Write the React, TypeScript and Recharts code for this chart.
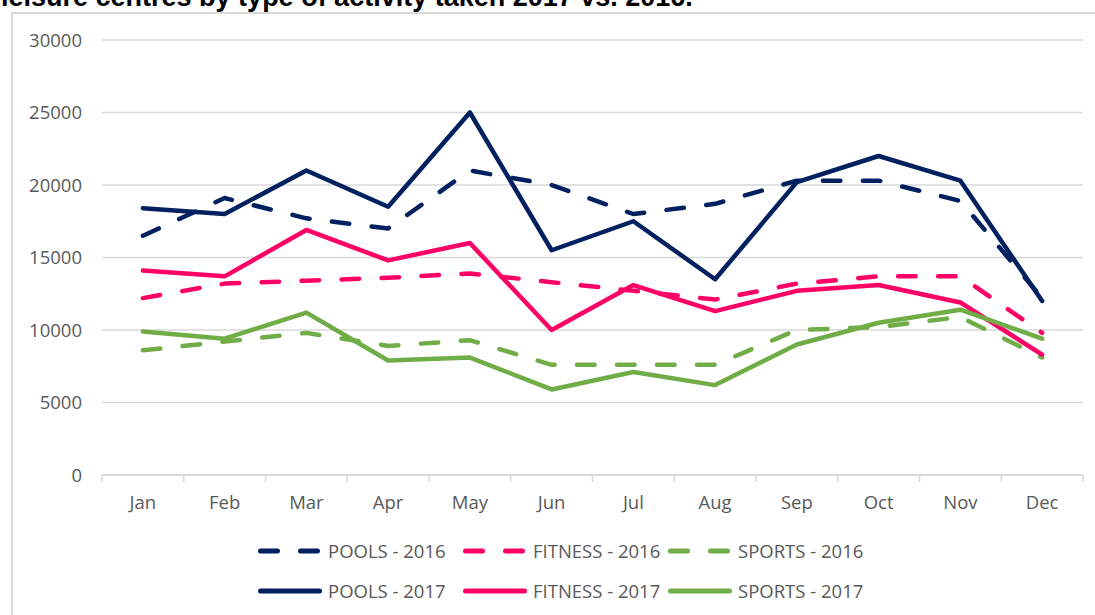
import * as React from 'react'
import { CartesianGrid, Legend, Line, LineChart, XAxis, YAxis } from 'recharts'

const months = ['Jan', 'Feb', 'Mar', 'Apr', 'May', 'Jun', 'Jul', 'Aug', 'Sep', 'Oct', 'Nov', 'Dec']

const pools2016 = [16500, 19100, 17700, 17000, 21000, 20000, 18000, 18700, 20300, 20300, 18900, 12200]
const fitness2016 = [12200, 13200, 13400, 13600, 13900, 13300, 12700, 12100, 13200, 13700, 13700, 9800]
const sports2016 = [8600, 9200, 9800, 8900, 9300, 7600, 7600, 7600, 10000, 10200, 10900, 8100]
const pools2017 = [18400, 18000, 21000, 18500, 25000, 15500, 17500, 13500, 20200, 22000, 20300, 12000]
const fitness2017 = [14100, 13700, 16900, 14800, 16000, 10000, 13100, 11300, 12700, 13100, 11900, 8300]
const sports2017 = [9900, 9400, 11200, 7900, 8100, 5900, 7100, 6200, 9000, 10500, 11400, 9400]

const yTicks = [0, 5000, 10000, 15000, 20000, 25000, 30000]

const NAVY = '#002060'
const PINK = '#FF0066'
const GREEN = '#70AD47'
const GRID = '#d9d9d9'
const LABEL = '#595959'
const FONT = '"Open Sans", sans-serif'
const FONT_SIZE = 18.5

// series drawn in legend order: 2016 row first, then 2017
const series = [
  { key: 'pools2016', name: 'POOLS - 2016', color: NAVY, dashed: true, values: pools2016 },
  { key: 'fitness2016', name: 'FITNESS - 2016', color: PINK, dashed: true, values: fitness2016 },
  { key: 'sports2016', name: 'SPORTS - 2016', color: GREEN, dashed: true, values: sports2016 },
  { key: 'pools2017', name: 'POOLS - 2017', color: NAVY, dashed: false, values: pools2017 },
  { key: 'fitness2017', name: 'FITNESS - 2017', color: PINK, dashed: false, values: fitness2017 },
  { key: 'sports2017', name: 'SPORTS - 2017', color: GREEN, dashed: false, values: sports2017 },
]

const data = months.map((month, i) => {
  const row: Record<string, string | number> = { month }
  series.forEach((s) => {
    row[s.key] = s.values[i]
  })
  return row
})

const WIDTH = 1095
const HEIGHT = 615
const MARGIN = { top: 40, right: 12, bottom: 0, left: 12 }
const Y_AXIS_WIDTH = 90
const PLOT_WIDTH = WIDTH - MARGIN.left - MARGIN.right - Y_AXIS_WIDTH
const BAND = PLOT_WIDTH / months.length
const LEGEND_HEIGHT = 100
const LEGEND_COLS = [258, 463, 668]

function MonthTick(props: any) {
  const { x, y, payload, index } = props
  const last = index === months.length - 1
  return (
    <g>
      <line x1={x - BAND / 2} x2={x - BAND / 2} y1={y} y2={y + 7} stroke={GRID} strokeWidth={1.5} />
      {last ? (
        <line x1={x + BAND / 2} x2={x + BAND / 2} y1={y} y2={y + 7} stroke={GRID} strokeWidth={1.5} />
      ) : null}
      <text x={x} y={y + 33.5} textAnchor="middle" fill={LABEL} fontSize={FONT_SIZE} fontFamily={FONT}>
        {payload.value}
      </text>
    </g>
  )
}

function LegendBox(props: any) {
  const payload = props.payload || []
  // keep the series order (recharts sorts legend items by name)
  const items = series
    .map((s) => ({ s, entry: payload.find((p: any) => p.value === s.name) }))
    .filter((d) => d.entry)
  return (
    <div style={{ position: 'relative', width: WIDTH, height: LEGEND_HEIGHT }}>
      {items.map(({ s, entry }, i) => {
        const col = i % 3
        const row = Math.floor(i / 3)
        return (
          <div
            key={s.key}
            style={{
              position: 'absolute',
              left: LEGEND_COLS[col],
              top: row === 0 ? 36 - 12 : 76 - 12,
              height: 24,
              display: 'flex',
              alignItems: 'center',
              whiteSpace: 'nowrap',
            }}
          >
            <svg width={64} height={10} style={{ display: 'block' }}>
              <line
                x1={2.5}
                x2={s.dashed ? 59.5 : 61.5}
                y1={5}
                y2={5}
                stroke={entry.color || s.color}
                strokeWidth={5}
                strokeLinecap="round"
                strokeDasharray={s.dashed ? '17 23' : undefined}
              />
            </svg>
            <span
              style={{
                marginLeft: 6,
                fontFamily: FONT,
                fontSize: FONT_SIZE,
                color: LABEL,
                lineHeight: '24px',
              }}
            >
              {entry.value}
            </span>
          </div>
        )
      })}
    </div>
  )
}

export default function App() {
  return (
    <div style={{ position: 'absolute', left: 0, top: 0, width: WIDTH, height: HEIGHT, overflow: 'hidden', background: '#fff' }}>
      <div
        style={{
          position: 'absolute',
          left: 11,
          top: 12,
          width: WIDTH,
          height: HEIGHT,
          border: `2px solid ${GRID}`,
          boxSizing: 'border-box',
        }}
      />
      <div
        style={{
          position: 'absolute',
          left: 1,
          top: -16,
          fontFamily: '"Liberation Sans", Arial, sans-serif',
          fontWeight: 700,
          fontSize: 27,
          lineHeight: '27px',
          color: '#000',
          whiteSpace: 'nowrap',
        }}
      >
        leisure centres by type of activity taken 2017 vs. 2016.
      </div>
      <div style={{ position: 'absolute', left: 0, top: 0 }}>
        <LineChart width={WIDTH} height={HEIGHT} data={data} margin={MARGIN} style={{ fontFamily: FONT }}>
          <CartesianGrid stroke={GRID} strokeWidth={1.5} vertical={false} />
          <XAxis
            dataKey="month"
            height={40}
            padding={{ left: BAND / 2, right: BAND / 2 }}
            axisLine={{ stroke: GRID, strokeWidth: 1.5 }}
            tickLine={false}
            tickSize={0}
            tickMargin={0}
            interval={0}
            tick={<MonthTick />}
          />
          <YAxis
            width={Y_AXIS_WIDTH}
            domain={[0, 30000]}
            ticks={yTicks}
            axisLine={false}
            tickLine={false}
            tickSize={6}
            tickMargin={14}
            tick={{ fill: LABEL, fontSize: FONT_SIZE, fontFamily: FONT }}
          />
          <Legend
            verticalAlign="bottom"
            align="left"
            wrapperStyle={{ left: 0, width: WIDTH }}
            content={<LegendBox />}
          />
          {series.map((s) => (
            <Line
              key={s.key}
              dataKey={s.key}
              name={s.name}
              type="linear"
              stroke={s.color}
              strokeWidth={4.5}
              strokeLinecap="round"
              strokeLinejoin="round"
              strokeDasharray={s.dashed ? '17.5 22.5' : undefined}
              dot={false}
              activeDot={false}
              isAnimationActive={false}
            />
          ))}
        </LineChart>
      </div>
    </div>
  )
}
